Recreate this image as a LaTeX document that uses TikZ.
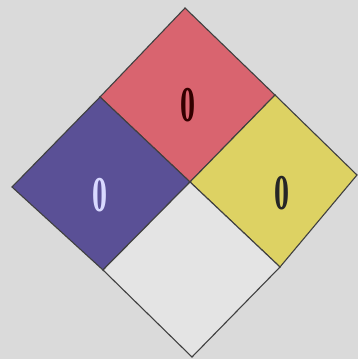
\documentclass[tikz,border=0pt]{standalone}
\usepackage{fontspec}
\setmainfont{Liberation Serif}
\begin{document}
\begin{tikzpicture}[x=1pt,y=-1pt,
  edge/.style={draw=black!75,line width=1.1pt,line join=miter},
  num/.style={font=\bfseries\fontsize{50}{50}\selectfont,xscale=0.6,inner sep=0pt}]
\definecolor{bgc}{HTML}{DADADA}
\definecolor{redc}{HTML}{D9646F}
\definecolor{bluec}{HTML}{5A5096}
\definecolor{yelc}{HTML}{DDD263}
\definecolor{whc}{HTML}{E4E4E4}
\fill[bgc] (0,0) rectangle (358,359);
\useasboundingbox (0,0) rectangle (358,359);
\coordinate (T) at (185,8);
\coordinate (R) at (357,175);
\coordinate (B) at (192,357);
\coordinate (L) at (12,187);
\coordinate (C) at (190,182);
\coordinate (TL) at (100,97);
\coordinate (TR) at (275,95);
\coordinate (BL) at (103,270);
\coordinate (BR) at (280,267);
\filldraw[edge,fill=redc] (T) -- (TR) -- (C) -- (TL) -- cycle;
\filldraw[edge,fill=bluec] (TL) -- (C) -- (BL) -- (L) -- cycle;
\filldraw[edge,fill=yelc] (TR) -- (R) -- (BR) -- (C) -- cycle;
\filldraw[edge,fill=whc] (C) -- (BR) -- (B) -- (BL) -- cycle;
\node[num,text=black!80!red] (nr) at (188,105) {0};
\node[num,text=white!85!blue] (nb) at (100,195) {0};
\node[num,text=black!85] (ny) at (282,193) {0};
\end{tikzpicture}
\end{document}
